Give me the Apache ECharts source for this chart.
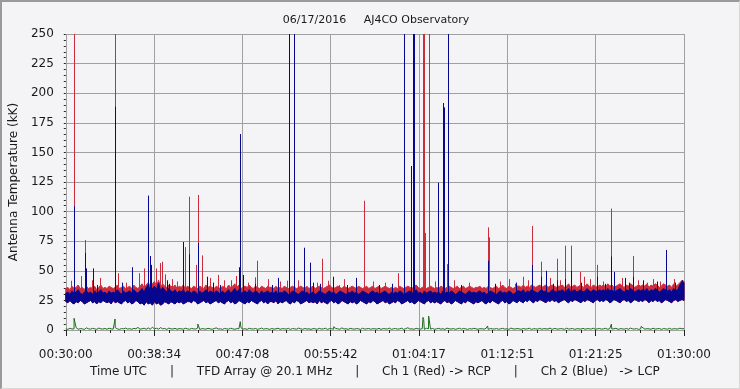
<!DOCTYPE html>
<html><head><meta charset="utf-8">
<script src="https://cdn.jsdelivr.net/npm/echarts@6/dist/echarts.min.js"></script>
<style>
html,body{margin:0;padding:0;background:#f4f4f6;}
#c{width:740px;height:389px;position:absolute;left:0;top:0;}
#frame{position:absolute;left:0;top:0;width:740px;height:389px;box-sizing:border-box;border-top:2px solid #9a9a9a;border-left:2px solid #9a9a9a;border-right:1px solid #d8d8d8;border-bottom:1px solid #d8d8d8;pointer-events:none;}
</style></head>
<body><div id="c"></div><div id="frame"></div>
<script>
// time axis: seconds after 00:30:00 UTC
const tickLabels = ['00:30:00','00:38:34','00:47:08','00:55:42','01:04:17','01:12:51','01:21:25','01:30:00'];
const sampleStep = 12; // seconds between envelope samples

// lower envelope of the noise band (kK), one value every 12 s
const blueLow = [
24,23,25,23,22,24,23,25,24,22,23,24,25,23,24,22,24,23,25,24,
23,24,22,25,23,24,23,22,24,25,23,24,22,23,25,24,22,23,21,24,
22,23,21,24,22,23,21,22,24,23,22,24,23,22,24,23,24,22,23,24,
24,23,25,24,22,23,24,25,23,24,22,23,24,25,23,24,23,22,24,25,
23,24,22,23,25,24,23,22,24,23,25,24,23,22,24,25,23,24,22,24,
24,23,25,22,24,23,24,25,23,22,24,23,25,24,22,23,24,25,23,24,
23,24,22,25,23,24,23,22,24,25,23,24,22,23,25,24,23,22,24,23,
24,22,23,25,24,23,22,24,23,25,24,22,23,24,25,23,24,22,23,24,
23,25,24,22,23,24,25,23,24,22,23,25,24,23,22,24,25,23,24,23,
24,23,22,24,25,23,24,22,23,25,24,23,22,24,23,25,24,23,22,24,
23,24,25,23,22,24,23,25,24,23,22,24,25,23,24,22,23,25,24,23,
25,24,23,25,24,26,24,23,25,24,26,25,24,23,25,24,26,24,25,23,
24,25,26,24,23,25,24,26,25,24,23,25,24,26,25,24,23,25,26,24,
25,24,26,25,23,24,26,25,24,23,25,26,24,25,23,24,26,25,24,25,
24,26,25,23,25,24,26,24,25,23,24,26,25,24,23,25,26,24,25,26,
25];

// Ch 2 (Blue, LCP) upper envelope
const blueHigh = [
31,32,30,33,31,32,34,31,30,32,33,31,32,30,33,31,32,34,31,32,
30,33,31,32,31,34,32,30,33,31,32,33,31,34,32,31,33,35,32,36,
38,33,35,37,34,40,33,36,34,32,35,33,32,34,31,33,32,34,31,33,
32,31,33,32,30,33,31,32,34,31,33,32,31,33,32,30,33,31,32,34,
31,33,35,32,34,31,32,33,31,34,32,31,33,32,30,33,31,32,33,31,
32,31,33,30,32,31,33,32,30,31,33,32,31,30,32,33,31,32,30,31,
32,30,31,33,32,31,30,32,33,31,32,30,31,33,32,31,30,32,31,33,
31,32,30,31,33,32,31,30,32,33,31,32,30,31,32,33,31,30,32,31,
32,31,33,32,30,31,32,33,31,32,34,31,32,30,33,31,32,33,31,32,
31,32,30,33,31,32,31,33,32,30,31,33,32,31,30,32,33,31,32,31,
32,33,31,32,30,31,33,32,31,30,32,33,31,32,31,33,32,30,31,33,
33,32,34,31,33,32,34,33,32,31,33,34,32,33,31,32,34,33,32,33,
33,34,32,33,35,32,33,34,32,33,34,32,33,35,33,32,34,33,32,34,
33,34,32,35,33,34,32,33,34,35,33,32,34,33,35,34,32,33,34,33,
34,33,35,32,34,33,35,34,32,33,35,34,33,34,32,35,33,34,38,41,
40];

// Ch 1 (Red, RCP) upper envelope
const redHigh = [
35,36,34,37,35,36,38,35,36,34,37,35,36,35,37,34,36,38,35,36,
35,37,36,35,36,38,35,36,37,35,36,37,35,38,36,35,37,39,36,38,
40,37,39,41,37,42,36,39,37,36,38,37,36,38,35,37,36,38,35,37,
36,35,37,36,35,37,36,35,38,36,37,36,35,37,36,35,37,36,35,38,
36,37,39,36,38,35,36,37,36,38,36,35,37,36,35,37,36,35,37,36,
36,35,37,35,36,35,37,36,35,36,37,36,35,36,37,36,35,37,35,36,
37,35,36,37,36,35,36,37,38,36,35,36,37,36,35,37,36,35,36,37,
36,35,37,36,35,36,37,35,36,37,35,36,37,35,36,37,36,35,36,35,
36,35,37,36,35,36,37,36,35,37,38,36,35,36,37,35,36,37,36,35,
36,35,37,36,35,36,37,36,35,36,37,35,36,37,35,36,37,36,35,36,
36,37,35,36,35,37,36,35,36,37,35,36,38,36,35,37,36,35,36,37,
37,36,38,36,37,36,38,37,36,37,38,36,37,38,36,37,38,37,36,37,
37,38,36,37,39,36,37,38,36,37,38,36,37,39,37,36,38,37,36,38,
37,38,36,39,37,38,36,37,38,39,37,36,38,37,39,38,36,37,38,37,
38,37,39,36,38,37,39,38,36,37,39,38,37,38,36,39,37,38,40,42,
41];

// difference channel (green)
const greenBase = [
1,0.5,1.5,0.8,1,2,0.6,1.2,1,0.5,1.8,1,0.7,1.4,1,0.6,1.6,1,0.8,1.3,
0.6,1.5,1,0.7,2,1,0.5,1.2,1,1.6,0.8,1.1,0.6,1.4,1,2.2,0.7,1,1.5,0.6,
1.8,0.6,2.4,1,1.5,0.7,2,1,1.3,0.5,1.6,1,0.8,1.4,0.6,1.2,1,0.7,1.5,1,
0.6,1.3,1,0.8,1.6,0.5,1.1,1,0.7,1.4,1,0.6,1.2,1.8,0.8,1,0.5,1.3,1,0.7,
1.5,1,0.6,1.2,1,2,0.7,1.1,0.5,1.4,1,0.8,1.3,0.6,1,1.6,0.7,1.2,1,0.5,
1.3,0.7,1,1.5,0.6,1.1,1,0.8,1.4,0.5,1.2,1,0.7,1.6,1,0.6,1.3,0.8,1,0.5,
1.2,1,0.6,1.4,0.8,1,1.5,0.5,1.2,1,0.7,1.3,1,0.6,1.8,0.8,1.1,0.5,1.4,1,
0.7,1.2,1,0.5,1.5,0.8,1,1.3,0.6,1.1,1,0.7,1.4,0.5,1.2,1,0.8,1.6,0.6,1,
1.3,0.7,1,1.5,0.5,1.2,1.9,0.8,1,0.6,1.4,1,0.7,1.2,0.5,1.5,1,0.8,1.3,0.6,
1,1.4,0.7,1.1,0.5,1.6,1,0.8,1.2,0.6,1,1.5,0.7,1.3,1,0.5,1.2,0.8,1.4,1,
0.6,1.1,1,0.7,1.5,0.5,1.2,1,0.8,1.3,0.6,1,1.4,0.7,1.1,0.5,1.6,1,0.8,1.2,
1,0.6,1.3,0.8,1,1.5,0.5,1.1,1,0.7,1.4,0.6,1.2,1,0.8,1.6,0.5,1.3,1,0.7,
1.2,1,0.6,1.5,0.8,1,1.3,0.5,1.1,1,0.7,1.4,0.6,1.2,1,0.8,1.5,0.6,1,1.3,
0.7,1,1.4,0.6,1.2,0.8,1,1.5,0.5,1.1,1,0.7,1.3,0.6,1.6,1,0.8,1.2,0.5,1,
1.4,0.7,1.1,1,0.6,1.5,0.8,1,1.3,0.5,1.2,1,0.7,1.4,0.6,1.1,1,0.8,1.5,1,
1.2];

// impulsive bursts [seconds after 00:30:00, kK]
const redSpikes = [
[29,41.6],[48,320],[91,45.6],[112,76],[150,42],[200,44],[287,320],[304,48],[350,40],[429,48],[455,52],
[525,52],[548,56.5],[562,57.7],[576,47],[620,43],[650,41],[692,70],[717,112.6],[756,55],[769,114],
[795,63],[840,44],[886,46.5],[921,42],[960,42],[990,45.6],[1060,40],[1101,44.5],[1114,58.5],[1180,43],
[1250,41],[1289,41.7],[1350,42],[1460,40],[1491,60.2],[1525,41.6],[1589,38],[1620,43],[1735,109.2],
[1790,41],[1860,40],[1932,48],[2011,42],[2078,320],[2081,320],[2084,320],[2090,82],[2113,320],[2150,41],
[2220,55.7],[2260,42],[2350,40],[2456,86.7],[2462,78.3],[2530,41],[2580,43],[2617,39],[2662,45],[2690,42],
[2714,87.8],[2767,57.7],[2820,44],[2860,60.2],[2880,42],[2906,71.2],[2941,71.2],[2997,49],[3020,45],
[3050,43],[3092,55],[3130,41],[3177,102.5],[3240,44],[3302,62.5],[3330,42],[3383,40],[3421,43],[3460,41],[3540,43]];

const blueSpikes = [
[48,104.5],[112,65],[118,52],[159,52],[180,38],[287,188.6],[330,40],[386,53],[479,113.5],[490,62.5],
[498,55],[587,42],[600,39],[685,74.3],[717,64],[769,73.5],[820,45],[859,40],[900,38],[1008,53],
[1016,165.5],[1031,46.5],[1100,39],[1200,38],[1235,44],[1299,320],[1328,320],[1386,69.5],[1421,56.9],
[1438,40],[1480,39],[1555,45],[1640,38],[1688,44],[1822,38],[1900,39],[1968,320],[2013,138.5],[2020,320],
[2023,320],[2026,320],[2167,124.4],[2196,191.7],[2200,188],[2223,320],[2300,38],[2456,58.5],[2500,39],
[2620,40],[2714,55],[2767,45],[2796,50],[2840,39],[2860,42],[2906,43],[2941,50],[3000,40],[3092,45],
[3140,39],[3177,62],[3195,49],[3255,44],[3280,40],[3302,45],[3363,42],[3440,41],[3494,67.6],[3550,40],[3590,42]];

const greenSpikes = [
[48,9.9],[122,3],[287,9.3],[400,3],[769,5],[1016,7],[1150,3],[1560,2.8],[1735,3],[2080,10.7],[2084,9],
[2113,11.8],[2300,3],[2456,3.4],[2941,2.5],[3177,5],[3350,3]];

const Y_MAX = 250;
function withSpikes(base, spikes){
  const pts = base.map((v,i)=>[i*sampleStep, v]);
  spikes.forEach(s=>pts.push([s[0], s[1]]));
  pts.sort((a,b)=>a[0]-b[0]);
  return pts;
}
// noise band drawn as a polygon between two envelopes, positioned by the axes
function bandSeries(hi, lo, color, z){
  return {type:'custom', z:z, silent:true, data:[[0, lo[0]]],
    renderItem:function(params, api){
      const pts = [];
      for (let i=0;i<hi.length;i++) pts.push(api.coord([i*sampleStep, hi[i]]));
      for (let i=lo.length-1;i>=0;i--) pts.push(api.coord([i*sampleStep, lo[i]]));
      return {type:'polygon', shape:{points:pts}, style:{fill:color, stroke:color, lineWidth:1}};
    }};
}
// each burst: a 1-px vertical stroke from the band up to its value (clipped at axis max)
function spikeSeries(spikes, foot, color, z){
  return {type:'custom', z:z, silent:true, data:spikes, encode:{x:0, y:1},
    renderItem:function(params, api){
      const t = api.value(0), v = Math.min(api.value(1), Y_MAX);
      const p0 = api.coord([t, foot]), p1 = api.coord([t, v]);
      const x = Math.round(p0[0]) + 0.5;
      return {type:'line', shape:{x1:x, y1:p0[1], x2:x, y2:p1[1]},
        style:{stroke:color, lineWidth:1}};
    }};
}

const RED = '#cc2c3c', BLUE = '#06068e', GREEN = '#1f6b1f';
const tickInterval = 3600/7;
const chart = echarts.init(document.getElementById('c'), null, {renderer:'canvas'});
const FONT = 'DejaVu Sans';
chart.setOption({
  backgroundColor:'#f4f4f6',
  animation:false,
  title:{text:'06/17/2016     AJ4CO Observatory', left:371, top:10, textAlign:'center',
    textStyle:{fontFamily:FONT, fontSize:11, fontWeight:'normal', color:'#1a1a1a'}},
  grid:{left:65, right:56, top:34, bottom:59, show:false},
  xAxis:{type:'value', min:0, max:3600, interval:tickInterval, offset:6,
    name:'Time UTC      |      TFD Array @ 20.1 MHz      |      Ch 1 (Red) -> RCP      |      Ch 2 (Blue)   -> LCP',
    nameLocation:'middle', nameGap:28,
    nameTextStyle:{fontFamily:FONT, fontSize:12, color:'#1a1a1a'},
    axisLine:{show:false},
    axisTick:{show:true, length:6, lineStyle:{color:'#222'}},
    minorTick:{show:true, splitNumber:6, length:3, lineStyle:{color:'#222'}},
    axisLabel:{margin:13, fontFamily:FONT, fontSize:12, color:'#1a1a1a',
      formatter:(v)=>tickLabels[Math.round(v/tickInterval)]},
    splitLine:{show:true, lineStyle:{color:'#a0a0a0', width:1}},
    minorSplitLine:{show:false}},
  yAxis:{type:'value', min:0, max:Y_MAX, interval:25, offset:6,
    name:'Antenna Temperature (kK)', nameLocation:'middle', nameGap:30,
    nameTextStyle:{fontFamily:FONT, fontSize:12, color:'#1a1a1a'},
    axisLine:{show:false},
    axisTick:{show:true, length:2, lineStyle:{color:'#222'}},
    minorTick:{show:true, splitNumber:5, length:2, lineStyle:{color:'#222'}},
    axisLabel:{margin:6, fontFamily:FONT, fontSize:12, color:'#1a1a1a'},
    splitLine:{show:true, lineStyle:{color:'#a0a0a0', width:1}}},
  series:[
    bandSeries(redHigh, blueLow, RED, 1),
    spikeSeries(redSpikes, 33, RED, 2),
    bandSeries(blueHigh, blueLow, BLUE, 3),
    spikeSeries(blueSpikes, 28, BLUE, 4),
    {type:'line', data:withSpikes(greenBase, greenSpikes), showSymbol:false, symbol:'none', clip:true,
     lineStyle:{color:GREEN, width:1}, z:5}
  ]
});
</script></body></html>
